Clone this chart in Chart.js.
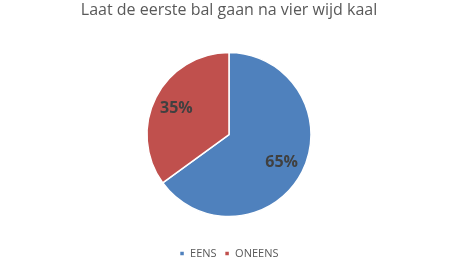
<!DOCTYPE html>
<html lang="nl">
<head>
  <meta charset="UTF-8">
  <title>Laat de eerste bal gaan na vier wijd kaal</title>
  <script src="https://cdn.jsdelivr.net/npm/chart.js"></script>
  <style>
    html, body { margin: 0; padding: 0; background: #fff; }
    #chart-container { width: 460px; height: 269px; }
  </style>
</head>
<body>
  <div id="chart-container">
    <canvas id="chart"></canvas>
  </div>

  <script>
    // Gegevens uit de grafiek
    const categories = ['EENS', 'ONEENS'];
    const percentages = [65, 35];
    const sliceColors = ['#4F81BD', '#C0504D'];
    const chartTitle = 'Laat de eerste bal gaan na vier wijd kaal';

    // Percentages in de taartpunten tekenen
    const sliceLabels = {
      id: 'sliceLabels',
      afterDatasetsDraw(chart) {
        const ctx = chart.ctx;
        const meta = chart.getDatasetMeta(0);
        ctx.save();
        ctx.font = 'bold 16px "Open Sans", sans-serif';
        ctx.fillStyle = '#404040';
        ctx.textAlign = 'center';
        ctx.textBaseline = 'middle';
        meta.data.forEach((arc, i) => {
          const p = arc.getProps(['x', 'y', 'startAngle', 'endAngle', 'outerRadius'], true);
          const mid = (p.startAngle + p.endAngle) / 2;
          const r = p.outerRadius * 0.72;
          ctx.fillText(percentages[i] + '%', p.x + Math.cos(mid) * r, p.y + Math.sin(mid) * r + 1);
        });
        ctx.restore();
      }
    };

    new Chart(document.getElementById('chart'), {
      type: 'pie',
      data: {
        labels: categories,
        datasets: [{
          data: percentages,
          backgroundColor: sliceColors,
          borderColor: '#ffffff',
          borderWidth: 1.5,
          radius: 82
        }]
      },
      options: {
        responsive: true,
        maintainAspectRatio: false,
        animation: false,
        events: [],
        layout: { padding: { top: 1, left: 0, right: 2 } },
        plugins: {
          title: {
            display: true,
            text: chartTitle,
            color: '#595959',
            font: { family: '"Open Sans", sans-serif', size: 16, weight: 'normal' },
            padding: { top: 0, bottom: 9 }
          },
          legend: {
            position: 'bottom',
            labels: {
              color: '#595959',
              font: { family: '"Open Sans", sans-serif', size: 11 },
              boxWidth: 5,
              boxHeight: 5,
              padding: 8
            }
          },
          tooltip: { enabled: false }
        }
      },
      plugins: [sliceLabels]
    });
  </script>
</body>
</html>
